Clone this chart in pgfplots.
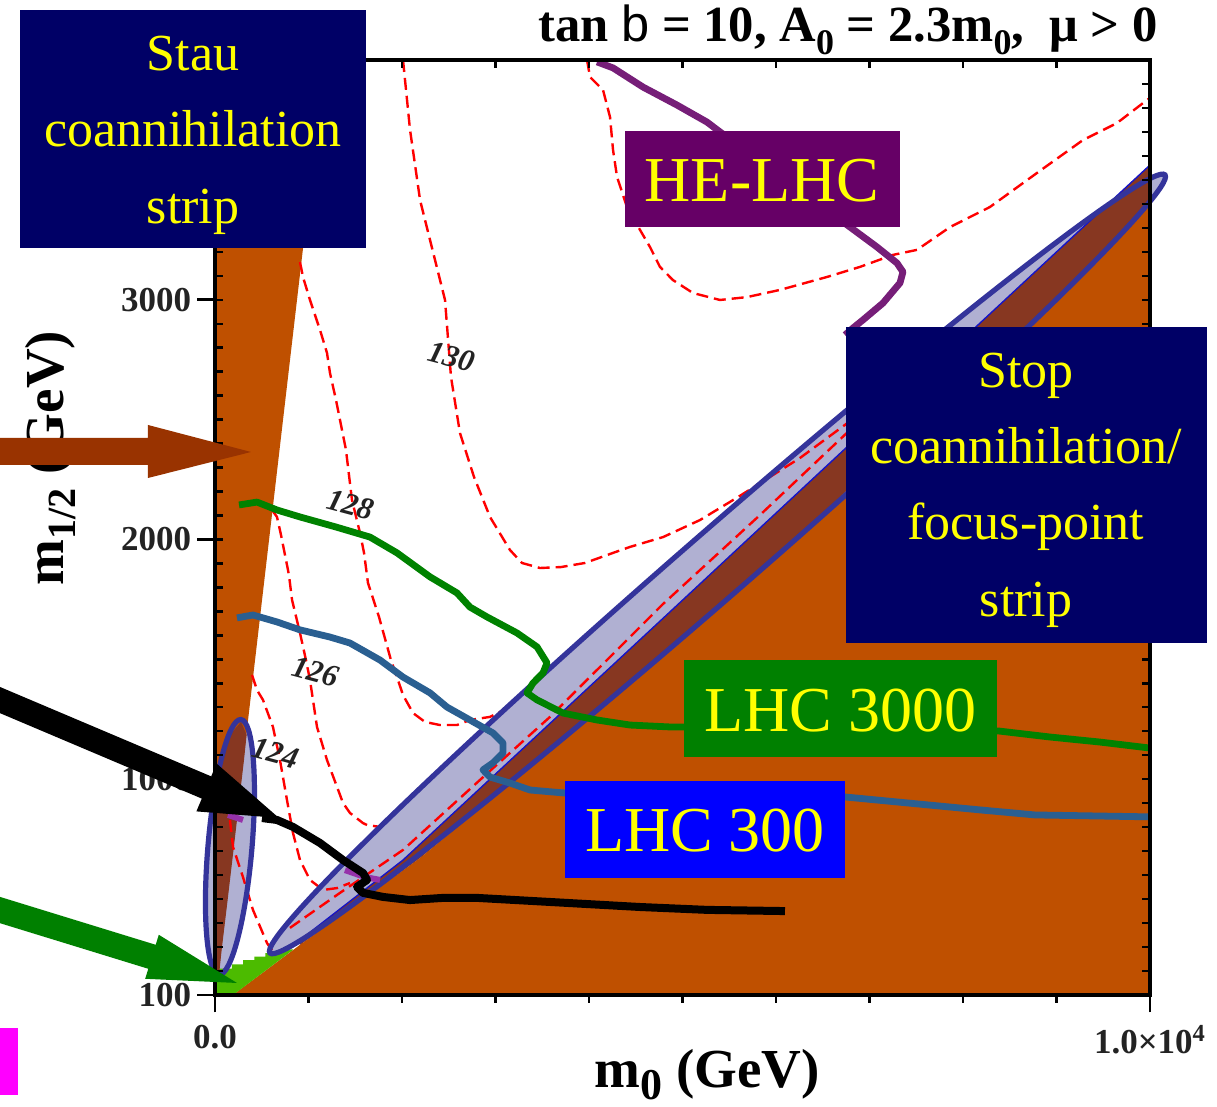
\documentclass[border=0pt]{standalone}
\usepackage{fontspec}
\setmainfont{Liberation Serif}
\newfontfamily\hsans{Liberation Sans}
\usepackage{graphicx}
\usepackage{pgfplots}
\pgfplotsset{compat=1.18}

\definecolor{orng}{RGB}{191,80,0}
\definecolor{brwn}{RGB}{135,55,33}
\definecolor{lav}{RGB}{176,176,210}
\definecolor{ellc}{RGB}{52,52,155}
\definecolor{thinb}{RGB}{20,20,200}
\definecolor{gpatch}{RGB}{76,187,0}
\definecolor{lgreen}{RGB}{0,130,0}
\definecolor{lblue}{RGB}{42,95,145}
\definecolor{hepur}{RGB}{118,30,120}
\definecolor{navyb}{RGB}{0,0,102}
\definecolor{purb}{RGB}{102,0,102}
\definecolor{greenb}{RGB}{0,128,0}
\definecolor{blueb}{RGB}{0,0,255}
\definecolor{yel}{RGB}{255,255,0}
\definecolor{brarrow}{RGB}{153,51,0}
\definecolor{grarrow}{RGB}{0,128,0}
\definecolor{mag}{RGB}{255,0,255}
\definecolor{cgray}{RGB}{35,35,35}
\definecolor{smallpur}{RGB}{150,50,170}

\tikzset{contour/.style={draw=red, line width=1.2pt, dash pattern=on 6pt off 3pt}}

\begin{document}
\begin{tikzpicture}
\begin{axis}[
  at={(0,0)}, anchor=south west,
  scale only axis, width=467.5pt, height=467.5pt,
  xmin=0, xmax=10000, ymin=100, ymax=4000,
  clip=false, axis on top, scaled ticks=false,
  axis line style={line width=1.7pt},
  tick style={line width=1.4pt, black},
  tick align=outside,
  xtick pos=left, ytick pos=left,
  xtick={0,10000},
  xticklabels={0.0, 1.0×10\textsuperscript{4}},
  minor xtick={1000,2000,...,9000},
  ytick={100,1000,2000,3000},
  yticklabels={100,1000,2000,3000},
  major tick length=8.75pt, minor tick length=4pt,
  ticklabel style={font=\fontsize{17.5}{17.5}\selectfont\bfseries, text=cgray},
  xticklabel style={inner sep=6pt},
  yticklabel style={inner sep=3pt},
]
% lavender ellipse fills
\fill[lav, rotate around={41:(axis cs:5374,1898)}] (axis cs:5374,1898) ellipse [x radius=296.5pt, y radius=16.5pt];
\fill[lav, rotate around={85.1:(axis cs:160,717)}] (axis cs:160,717) ellipse [x radius=64pt, y radius=11pt];
% orange excluded region
\addplot[fill=orng, draw=none] coordinates {(190,100) (909,309) (2192,671) (3583,1122) (4866,1539) (6257,2019) (7326,2415) (8642,2874) (10000,3404) (10000,100)} -- cycle;
% stau wedge
\addplot[fill=orng, draw=none] coordinates {(0,100) (0,4000) (1176,4000) (11,100)} -- cycle;
% green patch
\addplot[fill=gpatch, draw=none] coordinates {(0,100) (0,210) (180,210) (180,228) (300,228) (300,245) (420,245) (420,260) (540,260) (540,275) (680,275) (680,290) (834,290) (834,288) (193,100)} -- cycle;
% brown strip
\addplot[fill=brwn, draw=none] coordinates {(909,329) (2011,663) (4866,1698) (8150,2891) (10000,3562) (10000,3404) (8642,2874) (7326,2415) (6257,2019) (4866,1539) (3583,1122) (2192,671) (909,309)} -- cycle;
\addplot[fill=brwn, draw=none] coordinates {(278,1239) (338,1185) (310,1080) (260,913) (198,705) (135,496) (71,288) (43,183) (0,183) (0,913) (86,1080) (160,1185)} -- cycle;
% thin blue relic line
\addplot[draw=thinb, line width=0.7pt] coordinates {(909,329) (2011,663) (4866,1698) (8150,2891) (10000,3562)};
% Higgs mass contours
\addplot[contour] coordinates {(3979,4000) (4011,3929) (4150,3875) (4225,3762) (4257,3625) (4300,3512) (4406,3387) (4546,3291) (4652,3220) (4759,3137) (4898,3082) (5112,3028) (5401,2999) (5690,3011) (6043,3041) (6546,3095) (6898,3137) (7251,3187) (7508,3208) (7861,3303) (8289,3387) (8792,3529) (9283,3666) (9647,3737) (9968,3833) (10000,3842)};
\addplot[contour] coordinates {(2011,4000) (2086,3708) (2193,3416) (2353,3166) (2460,2999) (2524,2678) (2620,2444) (2770,2261) (2941,2094) (3155,1956) (3283,1902) (3476,1881) (3701,1885) (3957,1902) (4257,1944) (4439,1969) (4792,2010) (5187,2081) (5594,2177) (6257,2340) (6738,2478) (7112,2590)};
\addplot[contour] coordinates {(909,3157) (941,3095) (1016,2999) (1123,2874) (1198,2778) (1230,2694) (1294,2582) (1401,2373) (1465,2165) (1551,2027) (1594,1944) (1636,1819) (1754,1677) (1882,1497) (1968,1401) (2011,1351) (2118,1276) (2246,1239) (2406,1226) (2588,1226) (2727,1247) (2941,1260) (3048,1280) (3102,1289)};
\addplot[contour] coordinates {(610,2123) (663,2094) (706,2019) (749,1935) (791,1852) (824,1748) (909,1610) (973,1497) (1016,1414) (1091,1218) (1198,1080) (1305,968) (1369,901) (1444,859) (1583,817) (1626,809) (1765,801)};
\addplot[contour] coordinates {(396,1435) (449,1372) (513,1331) (620,1218) (695,1080) (770,913) (834,776) (909,663) (1016,580) (1155,538) (1305,546) (1444,567)};
\addplot[contour] coordinates {(160,830) (193,717) (299,592) (406,455) (556,317) (642,267)};
\addplot[contour] coordinates {(802,380) (1337,526) (2011,705) (2834,997) (3583,1260) (4792,1731) (5829,2102) (6792,2457)};
% ellipse outlines
\draw[ellc, line width=2.6pt, rotate around={41:(axis cs:5374,1898)}] (axis cs:5374,1898) ellipse [x radius=296.5pt, y radius=16.5pt];
\draw[ellc, line width=2.6pt, rotate around={85.1:(axis cs:160,717)}] (axis cs:160,717) ellipse [x radius=64pt, y radius=11pt];
% reach lines
\addplot[draw=hepur, line width=3.4pt, line join=round] coordinates {(4086,3992) (4257,3967) (4578,3887) (4941,3812) (5262,3741) (5401,3700) (6792,3303) (7080,3220) (7294,3153) (7358,3116) (7326,3070) (7144,2986) (6931,2916) (6824,2882) (6738,2853)};
\addplot[draw=lgreen, line width=3.4pt, line join=round] coordinates {(257,2144) (449,2156) (663,2123) (909,2094) (1294,2052) (1658,2010) (1947,1944) (2300,1844) (2588,1777) (2727,1718) (2909,1677) (3230,1610) (3444,1552) (3551,1485) (3508,1443) (3401,1401) (3337,1360) (3444,1331) (3722,1276) (4086,1247) (4439,1226) (4866,1218) (5005,1218) (8385,1201) (8931,1176) (9465,1155) (10000,1130)};
\addplot[draw=lblue, line width=3.4pt, line join=round] coordinates {(235,1673) (406,1685) (663,1656) (909,1623) (1230,1593) (1444,1568) (1765,1497) (2011,1426) (2300,1360) (2481,1301) (2727,1247) (2973,1193) (3080,1151) (3080,1109) (2973,1068) (2866,1039) (2941,1009) (3155,984) (3369,955) (3722,943) (6738,926) (8182,872) (8770,851) (10000,843)};
\addplot[draw=smallpur, line width=3pt] coordinates {(1390,621) (1604,592) (1765,580)};
\addplot[draw=smallpur, line width=3pt] coordinates {(139,851) (299,830)};
\addplot[draw=black, line width=4pt, line join=round] coordinates {(503,838) (663,830) (834,801) (1123,734) (1369,663) (1583,609) (1626,580) (1519,551) (1583,526) (1797,509) (2086,496) (2439,505) (2802,505) (3583,488) (4546,467) (5262,455) (6096,450)};
% contour labels
\node[rotate=-15, text=cgray, font=\fontsize{15.5}{15.5}\selectfont\bfseries\itshape] at (axis cs:2535,2761) {130};
\node[rotate=-15, text=cgray, font=\fontsize{15.5}{15.5}\selectfont\bfseries\itshape] at (axis cs:1455,2144) {128};
\node[rotate=-15, text=cgray, font=\fontsize{15.5}{15.5}\selectfont\bfseries\itshape] at (axis cs:1080,1447) {126};
\node[rotate=-15, text=cgray, font=\fontsize{15.5}{15.5}\selectfont\bfseries\itshape] at (axis cs:652,1109) {124};
\end{axis}
% inner minor ticks (top, right, left)
\begin{axis}[
  at={(0,0)}, anchor=south west,
  scale only axis, width=467.5pt, height=467.5pt,
  xmin=0, xmax=10000, ymin=100, ymax=4000,
  scaled ticks=false,
  axis line style={line width=1.7pt},
  tick style={line width=1.2pt, black},
  tick align=inside,
  xtick pos=right, ytick pos=both,
  xtick={1000,2000,...,9000},
  ytick={200,300,...,3900},
  xticklabels={}, yticklabels={},
  major tick length=4pt,
]
\end{axis}
\begin{scope}[shift={(-107.5pt,497.5pt)}, x=0.5pt, y=-0.5pt]
% title
\node[anchor=base east, inner sep=0pt, font=\fontsize{25.3}{25.3}\selectfont\bfseries] at (1158,42)
  {tan {\hsans\mdseries b} = 10, A\raisebox{-6.5pt}{\fontsize{18}{18}\selectfont 0} = 2.3m\raisebox{-6.5pt}{\fontsize{18}{18}\selectfont 0},~~μ > 0};
% axis labels
\node[anchor=base, inner sep=0pt, font=\fontsize{27.5}{27.5}\selectfont\bfseries] at (707,1088)
  {m\raisebox{-6pt}{\fontsize{22}{22}\selectfont 0} (GeV)};
\node[anchor=base, rotate=90, inner sep=0pt, font=\fontsize{27.5}{27.5}\selectfont\bfseries] at (64,458)
  {m\raisebox{-6pt}{\fontsize{20}{20}\selectfont 1/2} (GeV)};
% boxes
\fill[navyb] (20,10) rectangle (366,248);
\node[anchor=base, inner sep=0pt, text=yel, font=\fontsize{26}{26}\selectfont] at (193,71) {Stau};
\node[anchor=base, inner sep=0pt, text=yel, font=\fontsize{26}{26}\selectfont] at (193,147) {coannihilation};
\node[anchor=base, inner sep=0pt, text=yel, font=\fontsize{26}{26}\selectfont] at (193,224) {strip};
\fill[purb] (625,131) rectangle (900,227);
\node[anchor=base, inner sep=0pt, text=yel, font=\fontsize{32}{32}\selectfont] at (762,202) {HE-LHC};
\fill[navyb] (846,327) rectangle (1207,643);
\node[anchor=base, inner sep=0pt, text=yel, font=\fontsize{26}{26}\selectfont] at (1026,388) {Stop};
\node[anchor=base, inner sep=0pt, text=yel, font=\fontsize{26}{26}\selectfont] at (1026,464) {coannihilation/};
\node[anchor=base, inner sep=0pt, text=yel, font=\fontsize{26}{26}\selectfont] at (1026,540) {focus-point};
\node[anchor=base, inner sep=0pt, text=yel, font=\fontsize{26}{26}\selectfont] at (1026,617) {strip};
\fill[greenb] (684,660) rectangle (997,757);
\node[anchor=base, inner sep=0pt, text=yel, font=\fontsize{32}{32}\selectfont] at (840,732) {LHC 3000};
\fill[blueb] (565,781) rectangle (845,878);
\node[anchor=base, inner sep=0pt, text=yel, font=\fontsize{32}{32}\selectfont] at (705,852) {LHC 300};
% arrows
\fill[brarrow] (-5,438) -- (148,438) -- (148,425) -- (251,452) -- (148,478) -- (148,465) -- (-5,465) -- cycle;
\fill[black] (-15.3,680.5) -- (211.2,776.4) -- (216.6,763.6) -- (279,818) -- (196.4,811.4) -- (201.8,798.6) -- (-24.7,702.7) -- cycle;
\fill[grarrow] (-16.3,891.9) -- (155.7,944.8) -- (158.8,934.8) -- (237,983) -- (145.2,978.8) -- (148.3,968.8) -- (-23.7,915.9) -- cycle;
\fill[mag] (-5,1028) rectangle (18,1095);
\end{scope}
\pgfresetboundingbox
\path[use as bounding box] (-107.5pt,-56pt) rectangle (501pt,497.5pt);
\end{tikzpicture}
\end{document}
